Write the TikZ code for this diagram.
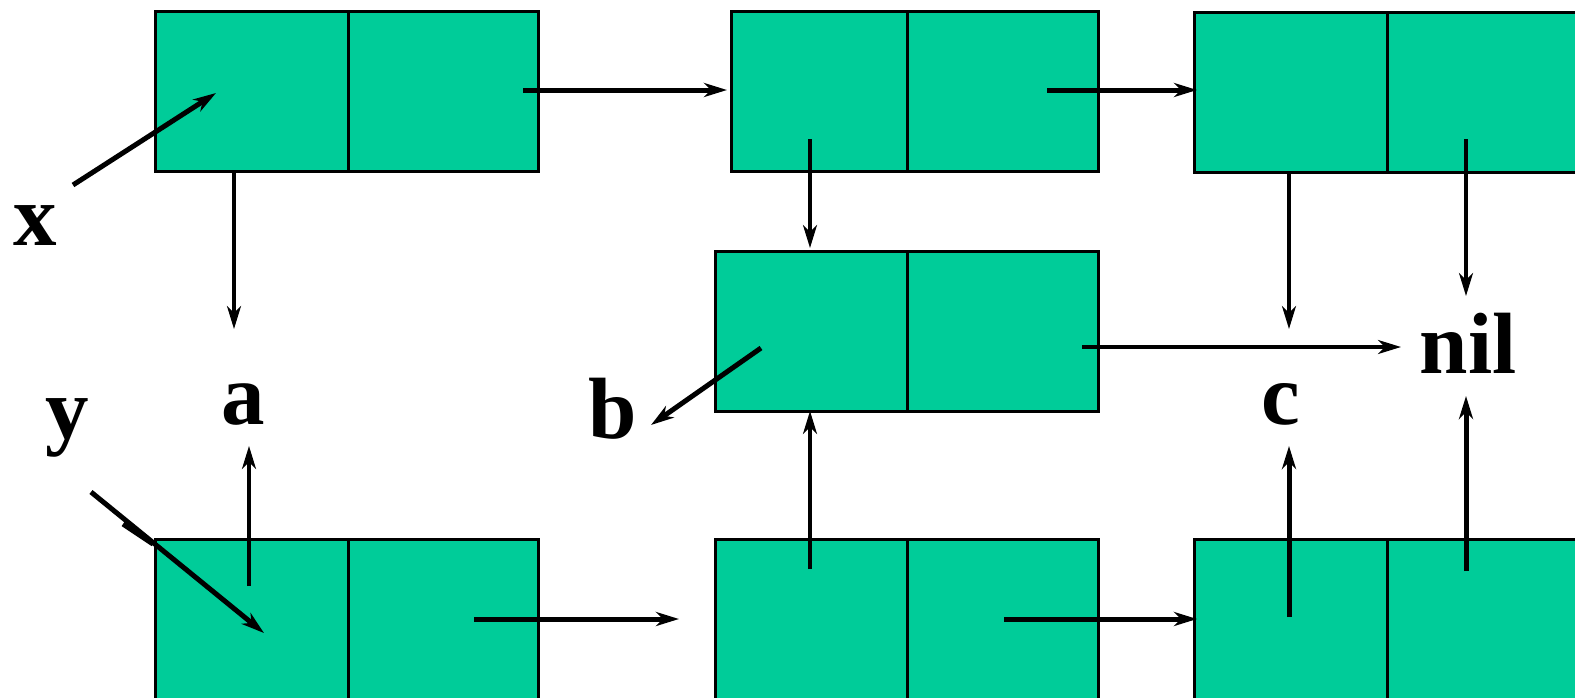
\documentclass[tikz,border=0pt]{standalone}
\usepackage{fontspec}
\setmainfont{Liberation Serif}
\usetikzlibrary{arrows.meta}
\definecolor{cellgreen}{RGB}{0,204,153}
\begin{document}
\begin{tikzpicture}[x=1pt,y=-1pt,
  cell/.style={rectangle, draw=black, line width=2.6pt, fill=cellgreen,
    minimum width=#1, minimum height=160pt, inner sep=0pt, anchor=north west},
  lowcell/.style={cell=#1, minimum height=200pt},
  lbl/.style={font=\fontsize{87}{87}\selectfont\bfseries, inner sep=0pt, anchor=base},
  tip/.style={-{Stealth[length=23pt,width=14pt,inset=7pt]}},
  thk/.style={tip, line width=5pt},
  thn/.style={tip, line width=3.4pt}]
\useasboundingbox (0,0) rectangle (1575,697);
% top row
\node[cell=193pt] (a1l) at (154,10) {};
\node[cell=190pt] (a1r) at (347,10) {};
\node[cell=176pt] (a2l) at (730,10) {};
\node[cell=191pt] (a2r) at (906,10) {};
\node[cell=193pt] (a3l) at (1193,11) {};
\node[cell=250pt] (a3r) at (1386,11) {};
% middle
\node[cell=192pt] (ml) at (714,250) {};
\node[cell=191pt] (mr) at (906,250) {};
% bottom row
\node[lowcell=193pt] (b1l) at (154,538) {};
\node[lowcell=190pt] (b1r) at (347,538) {};
\node[lowcell=192pt] (b2l) at (714,538) {};
\node[lowcell=191pt] (b2r) at (906,538) {};
\node[lowcell=193pt] (b3l) at (1193,538) {};
\node[lowcell=250pt] (b3r) at (1386,538) {};
% labels
\node[lbl] (x) at (35,245) {x};
\node[lbl] (y) at (67,438) {y};
\node[lbl] (a) at (243,424) {a};
\node[lbl] (b) at (613,438) {b};
\node[lbl] (c) at (1281,424) {c};
\node[lbl] (nil) at (1468,373) {nil};
% connector ends
\coordinate (xs) at (73,185);   \coordinate (xe) at (216,93);
\coordinate (ys) at (91,492);   \coordinate (ye) at (264,633);
\coordinate (yds) at (123,524); \coordinate (yde) at (153,544);
\coordinate (a1d) at (234,173); \coordinate (a1de) at (234,329);
\coordinate (a1h) at (523,90);  \coordinate (a1he) at (727,90);
\coordinate (a2h) at (1047,90); \coordinate (a2he) at (1197,90);
\coordinate (a2d) at (810,139); \coordinate (a2de) at (810,248);
\coordinate (a3d) at (1289,173); \coordinate (a3de) at (1289,329);
\coordinate (a3r) at (1466,139); \coordinate (a3re) at (1466,296);
\coordinate (mh) at (1082,347); \coordinate (mhe) at (1401,347);
\coordinate (mb) at (761,348);  \coordinate (mbe) at (651,425);
\coordinate (b1u) at (249,586); \coordinate (b1ue) at (249,446);
\coordinate (b1h) at (474,619); \coordinate (b1he) at (679,619);
\coordinate (b2u) at (810,569); \coordinate (b2ue) at (810,411);
\coordinate (b2h) at (1004,619); \coordinate (b2he) at (1197,619);
\coordinate (b3u) at (1289,617); \coordinate (b3ue) at (1289,446);
\coordinate (b3r) at (1466,571); \coordinate (b3re) at (1466,396);
% connectors
\draw[thk] (xs) -- (xe);
\draw[thk] (ys) -- (ye);
\draw[line width=5pt] (yds) -- (yde);
\draw[thn] (a1d) -- (a1de);
\draw[thk] (a1h) -- (a1he);
\draw[thk] (a2h) -- (a2he);
\draw[thn] (a2d) -- (a2de);
\draw[thn] (a3d) -- (a3de);
\draw[thn] (a3r) -- (a3re);
\draw[thn] (mh) -- (mhe);
\draw[thk] (mb) -- (mbe);
\draw[thn] (b1u) -- (b1ue);
\draw[thk] (b1h) -- (b1he);
\draw[thn] (b2u) -- (b2ue);
\draw[thk] (b2h) -- (b2he);
\draw[thk] (b3u) -- (b3ue);
\draw[thk] (b3r) -- (b3re);
\end{tikzpicture}
\end{document}
